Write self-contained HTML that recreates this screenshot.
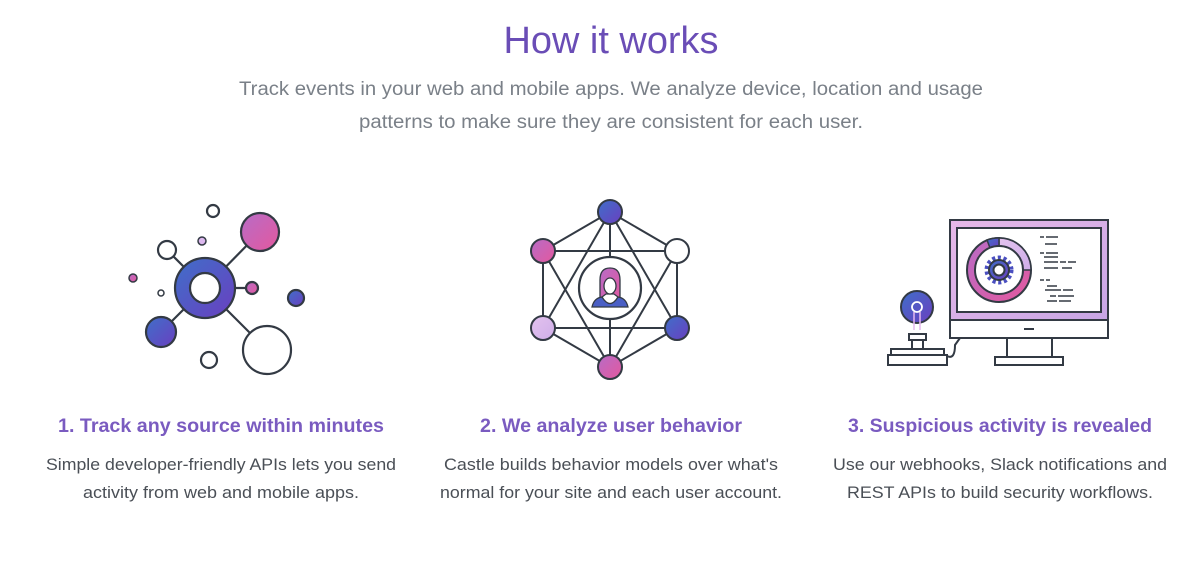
<!DOCTYPE html>
<html><head><meta charset="utf-8"><style>
html,body{margin:0;padding:0;background:#fff;}
svg{display:block;font-family:"Liberation Sans",sans-serif;}
</style></head><body>
<svg width="1204" height="564" viewBox="0 0 1204 564" xmlns="http://www.w3.org/2000/svg">
<defs>
<linearGradient id="bl" x1="0" y1="0" x2="1" y2="1"><stop offset="0" stop-color="#3f6fc9"/><stop offset="1" stop-color="#6a3fc0"/></linearGradient>
<linearGradient id="pk" x1="0" y1="0" x2="1" y2="1"><stop offset="0" stop-color="#b76cc7"/><stop offset="1" stop-color="#e4589e"/></linearGradient>
<linearGradient id="lv" x1="0" y1="0" x2="1" y2="1"><stop offset="0" stop-color="#e3c2ef"/><stop offset="1" stop-color="#cfaee8"/></linearGradient>
<linearGradient id="mon" x1="0" y1="0" x2="1" y2="1"><stop offset="0" stop-color="#e6b8e8"/><stop offset="1" stop-color="#c8a6e6"/></linearGradient>
</defs>

<text x="611" y="53" text-anchor="middle" font-size="38" fill="#6a4db6" font-weight="300" textLength="215" lengthAdjust="spacingAndGlyphs">How it works</text>
<text x="611" y="95" text-anchor="middle" font-size="19" fill="#7a8088" textLength="744" lengthAdjust="spacingAndGlyphs">Track events in your web and mobile apps. We analyze device, location and usage</text>
<text x="611" y="128" text-anchor="middle" font-size="19" fill="#7a8088" textLength="504" lengthAdjust="spacingAndGlyphs">patterns to make sure they are consistent for each user.</text>

<!-- icon 1 -->
<g stroke="#333a44" stroke-width="2.2">
<line x1="205" y1="288" x2="260" y2="232"/><line x1="205" y1="288" x2="167" y2="250"/><line x1="205" y1="288" x2="252" y2="288"/><line x1="205" y1="288" x2="161" y2="332"/><line x1="205" y1="288" x2="267" y2="350"/>
<circle cx="205" cy="288" r="30" fill="url(#bl)"/><circle cx="205" cy="288" r="15" fill="#fff"/>
<circle cx="260" cy="232" r="19" fill="url(#pk)"/>
<circle cx="213" cy="211" r="6" fill="#fff"/>
<circle cx="202" cy="241" r="4" fill="#dcb8ee" stroke-width="1.5"/>
<circle cx="167" cy="250" r="9" fill="#fff"/>
<circle cx="133" cy="278" r="4" fill="url(#pk)" stroke-width="1.5"/>
<circle cx="161" cy="293" r="3" fill="#fff" stroke-width="1.5"/>
<circle cx="252" cy="288" r="6" fill="url(#pk)"/>
<circle cx="296" cy="298" r="8" fill="url(#bl)"/>
<circle cx="161" cy="332" r="15" fill="url(#bl)"/>
<circle cx="267" cy="350" r="24" fill="#fff"/>
<circle cx="209" cy="360" r="8" fill="#fff"/>
</g>

<!-- icon 2 -->
<g stroke="#333a44" stroke-width="2">
<polygon points="610,212 677,251 677,328 610,367 543,328 543,251" fill="none"/>
<polygon points="610,212 677,328 543,328" fill="none"/>
<polygon points="610,367 677,251 543,251" fill="none"/>
<line x1="610" y1="212" x2="610" y2="367"/>
<circle cx="610" cy="288" r="31" fill="#fff" stroke-width="2.2"/>
<circle cx="610" cy="212" r="12" fill="url(#bl)"/>
<circle cx="543" cy="251" r="12" fill="url(#pk)"/>
<circle cx="677" cy="251" r="12" fill="#fff"/>
<circle cx="543" cy="328" r="12" fill="url(#lv)"/>
<circle cx="677" cy="328" r="12" fill="url(#bl)"/>
<circle cx="610" cy="367" r="12" fill="url(#pk)"/>
</g>
<g stroke="#333a44" stroke-width="1.3">
<path d="M600 306 L600 280 Q600 268 610 268 Q620 268 620 280 L620 306 Z" fill="url(#pk)"/>
<path d="M592 307 Q594 298 602 297 L618 297 Q626 298 628 307 Z" fill="#4a5fc5"/>
<path d="M602 297 Q610 310 618 297 L614 294 L606 294 Z" fill="#fff"/>
<ellipse cx="610" cy="286" rx="6" ry="8" fill="#fff"/>
</g>

<!-- icon 3 -->
<g stroke="#333a44" stroke-width="2">
<path d="M947 356 Q955 360 955 345 L960 338" fill="none"/>
<rect x="950" y="220" width="158" height="100" fill="url(#mon)"/>
<rect x="957" y="228" width="144" height="84" fill="#fff"/>
<rect x="950" y="320" width="158" height="18" fill="#fff"/>
<line x1="1024" y1="329" x2="1034" y2="329"/>
<rect x="1007" y="338" width="45" height="19" fill="#fff"/>
<rect x="995" y="357" width="68" height="8" fill="#fff"/>
<circle cx="999" cy="270" r="32" fill="url(#pk)"/>
<path d="M999 238 A32 32 0 0 1 1031 270 L1023 270 A24 24 0 0 0 999 246 Z" fill="url(#lv)" stroke-width="1.5"/>
<path d="M987 240 A32 32 0 0 1 999 238 L999 246 A24 24 0 0 0 990 248 Z" fill="url(#bl)" stroke-width="1.5"/>
<circle cx="999" cy="270" r="24" fill="#fff"/>
<circle cx="999" cy="270" r="12" fill="none" stroke="#4a4fc0" stroke-width="5" stroke-dasharray="3 2.5"/>
<circle cx="999" cy="270" r="10" fill="url(#bl)"/>
<circle cx="999" cy="270" r="5.5" fill="#fff"/>
<circle cx="917" cy="307" r="16" fill="url(#bl)"/>
<path d="M914 330 L914 312 M920 330 L920 312" stroke="#e6b8f0" stroke-width="1.5"/>
<circle cx="917" cy="307" r="5" fill="none" stroke="#fff" stroke-width="1.8"/>
<rect x="909" y="334" width="17" height="6" fill="#fff"/>
<rect x="912" y="340" width="11" height="9" fill="#fff"/>
<rect x="891" y="349" width="53" height="6" fill="#fff"/>
<rect x="888" y="355" width="59" height="10" fill="#fff"/>
</g>
<g stroke="#333a44" stroke-width="1.6">
<path d="M1040 237h4m2 0h12M1045 244h12M1040 253h4m2 0h12M1044 257h14M1044 262h14m2 0h6m2 0h8M1044 268h14m4 0h10M1040 280h4m2 0h4M1047 286h10M1045 290h16m2 0h10M1050 296h6m2 0h16M1047 301h10m2 0h12"/>
</g>

<g text-anchor="middle" font-weight="bold" font-size="19" fill="#7a5bc0">
<text x="221" y="432" textLength="326" lengthAdjust="spacingAndGlyphs">1. Track any source within minutes</text>
<text x="611" y="432" textLength="262" lengthAdjust="spacingAndGlyphs">2. We analyze user behavior</text>
<text x="1000" y="432" textLength="304" lengthAdjust="spacingAndGlyphs">3. Suspicious activity is revealed</text>
</g>
<g text-anchor="middle" font-size="17" fill="#4a4f56">
<text x="221" y="470" textLength="350" lengthAdjust="spacingAndGlyphs">Simple developer-friendly APIs lets you send</text>
<text x="221" y="498" textLength="276" lengthAdjust="spacingAndGlyphs">activity from web and mobile apps.</text>
<text x="611" y="470" textLength="334" lengthAdjust="spacingAndGlyphs">Castle builds behavior models over what's</text>
<text x="611" y="498" textLength="342" lengthAdjust="spacingAndGlyphs">normal for your site and each user account.</text>
<text x="1000" y="470" textLength="334" lengthAdjust="spacingAndGlyphs">Use our webhooks, Slack notifications and</text>
<text x="1000" y="498" textLength="306" lengthAdjust="spacingAndGlyphs">REST APIs to build security workflows.</text>
</g>
</svg>
</body></html>
